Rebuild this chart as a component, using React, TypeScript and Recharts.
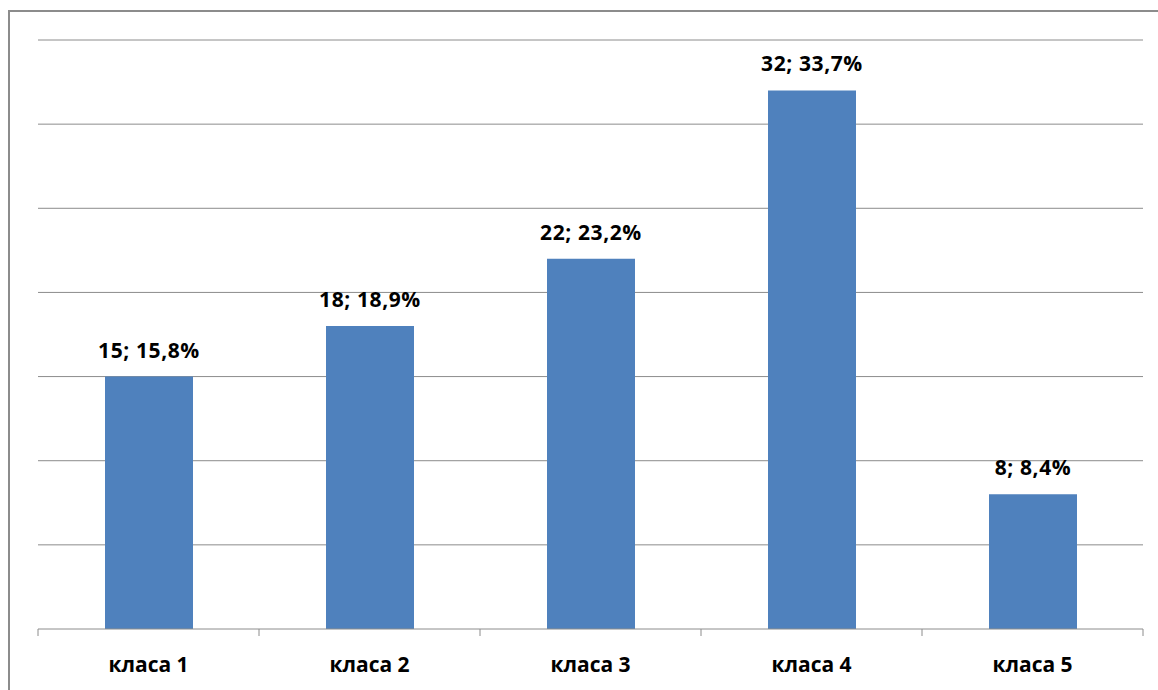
import React from "react";
import { BarChart, Bar, XAxis, YAxis, CartesianGrid, LabelList } from "recharts";

const categories = ["класа 1", "класа 2", "класа 3", "класа 4", "класа 5"];
const counts = [15, 18, 22, 32, 8];
const percents = [15.8, 18.9, 23.2, 33.7, 8.4];
const gridValues = [5, 10, 15, 20, 25, 30, 35];

const data = categories.map((name, i) => ({
  name,
  count: counts[i],
  pct: percents[i],
}));

const FONT = "'Open Sans', 'Noto Sans', sans-serif";
const AXIS_GRAY = "#8c8c8c";

const fmtPct = (v: number) => v.toFixed(1).replace(".", ",") + "%";

// category tick: label text plus separator marks on the band edges
const CategoryTick = (props: any) => {
  const { x, y, payload, index, visibleTicksCount } = props;
  const half = payload.offset ?? 0;
  const last = index === visibleTicksCount - 1;
  return (
    <g>
      <line x1={x - half} x2={x - half} y1={y} y2={y + 7} stroke={AXIS_GRAY} strokeWidth={1} />
      {last && (
        <line x1={x + half} x2={x + half} y1={y} y2={y + 7} stroke={AXIS_GRAY} strokeWidth={1} />
      )}
      <text
        x={x}
        y={y + 43}
        textAnchor="middle"
        fontFamily={FONT}
        fontWeight={700}
        fontSize={21}
        fill="#000"
      >
        {payload.value}
      </text>
    </g>
  );
};

const ValueLabel = (props: any) => {
  const { x, y, width, index } = props;
  const row = data[index];
  return (
    <text
      x={x + width / 2}
      y={y - 19}
      textAnchor="middle"
      fontFamily={FONT}
      fontWeight={700}
      fontSize={21}
      letterSpacing={0.6}
      fill="#000"
    >
      {`${row.count}; ${fmtPct(row.pct)}`}
    </text>
  );
};

export default function App() {
  return (
    <div
      style={{
        position: "absolute",
        left: 0,
        top: 0,
        width: 1158,
        height: 690,
        overflow: "hidden",
        background: "#fff",
      }}
    >
      <div
        style={{
          position: "absolute",
          left: 8,
          top: 10,
          width: 1200,
          height: 720,
          border: `2px solid ${AXIS_GRAY}`,
        }}
      />
      <BarChart
        width={1158}
        height={690}
        data={data}
        margin={{ top: 40, right: 15, left: 38, bottom: 0 }}
        barCategoryGap={0}
      >
        <CartesianGrid
          vertical={false}
          horizontalValues={gridValues}
          stroke={AXIS_GRAY}
          strokeWidth={1}
        />
        <YAxis hide domain={[0, 35]} ticks={gridValues} />
        <XAxis
          dataKey="name"
          height={61}
          axisLine={{ stroke: AXIS_GRAY, strokeWidth: 1 }}
          tickLine={false}
          tickSize={0}
          tickMargin={0}
          interval={0}
          tick={<CategoryTick />}
        />
        <Bar dataKey="count" fill="#4f81bd" barSize={88} isAnimationActive={false}>
          <LabelList dataKey="count" content={<ValueLabel />} />
        </Bar>
      </BarChart>
    </div>
  );
}
